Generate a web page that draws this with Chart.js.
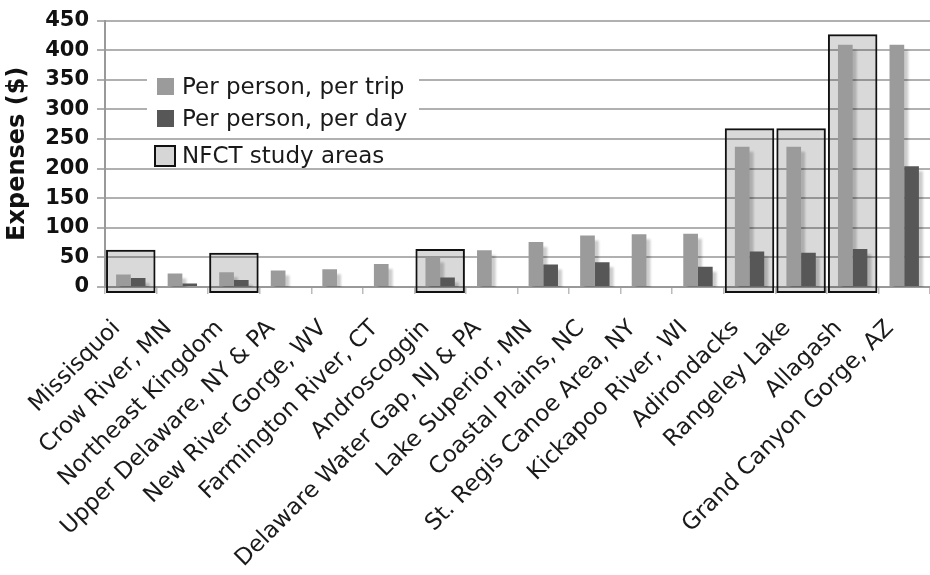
<!DOCTYPE html>
<html>
<head>
<meta charset="utf-8">
<script src="https://cdn.jsdelivr.net/npm/chart.js@4.4.1/dist/chart.umd.min.js"></script>
<style>
  html, body { margin: 0; padding: 0; background: #fff; }
  #wrap { width: 930px; height: 575px; }
</style>
</head>
<body>
<div id="wrap"><canvas id="c" width="930" height="575"></canvas></div>
<script>
// Trip expenses by river destination
const categories = [
  'Missisquoi', 'Crow River, MN', 'Northeast Kingdom', 'Upper Delaware, NY & PA',
  'New River Gorge, WV', 'Farmington River, CT', 'Androscoggin',
  'Delaware Water Gap, NJ & PA', 'Lake Superior, MN', 'Coastal Plains, NC',
  'St. Regis Canoe Area, NY', 'Kickapoo River, WI', 'Adirondacks',
  'Rangeley Lake', 'Allagash', 'Grand Canyon Gorge, AZ'
];
const perTrip = [21, 23, 25, 28, 30, 39, 50, 62, 76, 87, 89, 90, 237, 237, 409, 409];
const perDay  = [15, 6, 12, null, null, null, 16, null, 38, 42, null, 34, 60, 58, 64, 204];
// Outline boxes marking the NFCT study areas (top of each box, in $)
const studyAreaTop  = [63, null, 58, null, null, null, 64, null, null, null, null, null, 268, 268, 427, null];
const studyAreaBase = -10;
const yTicks = [0, 50, 100, 150, 200, 250, 300, 350, 400, 450];

const seriesLabels = ['Per person, per trip', 'Per person, per day', 'NFCT study areas'];
const FONT = "'DejaVu Sans', Verdana, sans-serif";

// Soft drop shadow behind the two expense series
const barShadow = {
  id: 'barShadow',
  afterDatasetDraw(chart, args) {
    if (args.index !== 2) return;
    const ctx = chart.ctx, a = chart.chartArea;
    ctx.save();
    ctx.beginPath();
    ctx.rect(a.left, a.top, a.right - a.left, a.bottom - a.top);
    ctx.clip();
    ctx.fillStyle = 'rgba(0,0,0,0.2)';
    ctx.filter = 'blur(1px)';
    [0, 1].forEach(i => {
      chart.getDatasetMeta(i).data.forEach(el => {
        const p = el.getProps(['x', 'y', 'base', 'width'], true);
        if (p.y == null || isNaN(p.y)) return;
        ctx.fillRect(p.x - p.width / 2 + 4, p.y + 5, p.width, p.base - p.y);
      });
    });
    ctx.restore();
  }
};

// Legend panel drawn inside the plot
const legendPanel = {
  id: 'legendPanel',
  afterDatasetsDraw(chart) {
    const ctx = chart.ctx;
    const ds = chart.data.datasets;
    ctx.save();
    ctx.fillStyle = '#fff';
    ctx.fillRect(147, 68, 272, 58);
    ctx.font = '23px ' + FONT;
    ctx.textBaseline = 'middle';
    ctx.textAlign = 'left';
    const rows = [87, 119, 156];
    rows.forEach((cy, i) => {
      if (i < 2) {
        ctx.fillStyle = ds[i].backgroundColor;
        ctx.fillRect(157, cy - 9, 17, 17);
      } else {
        ctx.fillStyle = '#d6d6d6';
        ctx.fillRect(155, cy - 10, 20, 20);
        ctx.strokeStyle = '#111';
        ctx.lineWidth = 2;
        ctx.strokeRect(155, cy - 10, 20, 20);
      }
      ctx.fillStyle = '#1a1a1a';
      ctx.fillText(ds[i].label, 182, cy + 1);
    });
    ctx.restore();
  }
};

new Chart(document.getElementById('c'), {
  type: 'bar',
  data: {
    labels: categories,
    datasets: [
      {
        label: seriesLabels[0],
        data: perTrip,
        backgroundColor: '#9b9b9b',
        categoryPercentage: 0.57,
        barPercentage: 1,
        order: 0
      },
      {
        label: seriesLabels[1],
        data: perDay,
        backgroundColor: '#575757',
        categoryPercentage: 0.57,
        barPercentage: 1,
        order: 1
      },
      {
        label: seriesLabels[2],
        data: studyAreaTop.map(v => v == null ? null : [studyAreaBase, v]),
        backgroundColor: 'rgba(0,0,0,0.15)',
        borderColor: '#111',
        borderWidth: 2,
        borderSkipped: false,
        grouped: false,
        categoryPercentage: 1,
        barPercentage: 0.96,
        clip: false,
        order: 2
      }
    ]
  },
  options: {
    responsive: false,
    animation: false,
    layout: { padding: { top: 16, right: 0, bottom: 0, left: 0 } },
    plugins: {
      legend: { display: false },
      tooltip: { enabled: false }
    },
    scales: {
      x: {
        type: 'category',
        offset: true,
        grid: {
          display: true,
          drawOnChartArea: false,
          drawTicks: true,
          tickLength: 7,
          color: '#bbbbbb',
          lineWidth: 1.5,
          offset: true
        },
        border: { display: true, color: '#999999', width: 2 },
        ticks: {
          autoSkip: false,
          minRotation: 45,
          maxRotation: 45,
          color: '#1a1a1a',
          font: { family: FONT, size: 23 },
          padding: 21,
          labelOffset: -14
        },
        afterFit(scale) {
          scale.height = 288;
          scale.paddingLeft = 0;
          scale.paddingRight = 0;
        }
      },
      y: {
        min: 0,
        max: 450,
        afterBuildTicks(scale) { scale.ticks = yTicks.map(v => ({ value: v })); },
        grid: { color: '#b0b0b0', lineWidth: 2, tickLength: 8 },
        border: { display: true, color: '#999999', width: 2 },
        ticks: {
          color: '#111',
          padding: 8,
          font: { family: FONT, size: 21, weight: 'bold' }
        },
        title: {
          display: true,
          text: 'Expenses ($)',
          color: '#111',
          font: { family: FONT, size: 24, weight: 'bold' },
          padding: { top: 3, bottom: 0 }
        },
        afterFit(scale) { scale.width = 105; }
      }
    }
  },
  plugins: [barShadow, legendPanel]
});
</script>
</body>
</html>
